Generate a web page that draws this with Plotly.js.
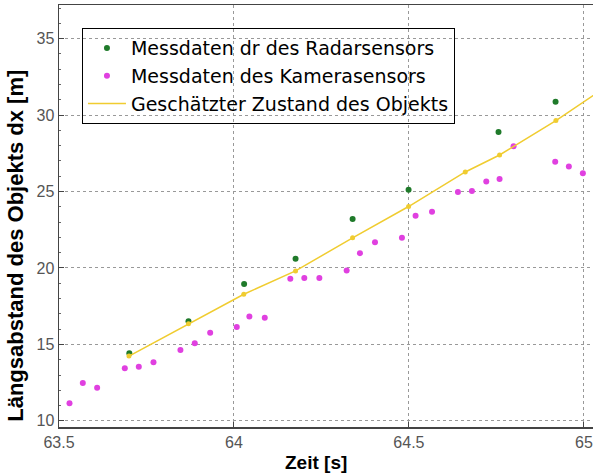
<!DOCTYPE html>
<html>
<head>
<meta charset="utf-8">
<script src="https://cdn.plot.ly/plotly-3.0.1.min.js"></script>
<style>html,body{margin:0;padding:0;background:#fff;}#chart{width:593px;height:473px;}</style>
</head>
<body>
<div id="chart"></div>
<script>
// Radar measurements (green)
const radarTime = [63.701, 63.870, 64.029, 64.176, 64.339, 64.499, 64.756, 64.919];
const radarDist = [14.42, 16.51, 18.96, 20.60, 23.20, 25.12, 28.90, 30.87];

// Camera measurements (magenta)
const camTime = [63.530, 63.568, 63.609, 63.688, 63.728, 63.770, 63.847, 63.888, 63.932,
                 64.008, 64.044, 64.088, 64.161, 64.201, 64.244, 64.322, 64.360, 64.403,
                 64.480, 64.519, 64.566, 64.640, 64.680, 64.721, 64.759, 64.799, 64.918,
                 64.957, 64.997];
const camDist = [11.16, 12.47, 12.16, 13.45, 13.54, 13.83, 14.63, 15.07, 15.77,
                 16.14, 16.82, 16.75, 19.29, 19.35, 19.35, 19.83, 20.97, 21.69,
                 21.97, 23.41, 23.68, 24.97, 25.03, 25.66, 25.82, 27.96, 26.95,
                 26.64, 26.19];

// Estimated state (yellow)
const estTime = [63.700, 63.870, 64.028, 64.176, 64.339, 64.499, 64.661, 64.759, 64.920, 65.080];
const estDist = [14.24, 16.36, 18.28, 19.81, 21.97, 24.02, 26.28, 27.39, 29.64, 32.10];

const xTicks = [63.5, 64, 64.5, 65];
const yTicks = [10, 15, 20, 25, 30, 35];

const traces = [
  {x: radarTime, y: radarDist, type: 'scatter', mode: 'markers',
   name: 'Messdaten dr des Radarsensors',
   marker: {color: '#1f7a2a', size: 6, symbol: 'circle'}},
  {x: camTime, y: camDist, type: 'scatter', mode: 'markers',
   name: 'Messdaten des Kamerasensors',
   marker: {color: '#e040e0', size: 6, symbol: 'circle'}},
  {x: estTime, y: estDist, type: 'scatter', mode: 'lines',
   name: 'Geschätzter Zustand des Objekts',
   line: {color: '#f0cc30', width: 1.5}},
  {x: estTime, y: estDist, type: 'scatter', mode: 'markers',
   name: 'Geschätzter Zustand des Objekts', showlegend: false,
   marker: {color: '#f0cc30', size: 5}}
];

const layout = {
  width: 593, height: 473,
  margin: {l: 59, r: 0, t: 5, b: 46},
  paper_bgcolor: '#ffffff', plot_bgcolor: '#ffffff',
  showlegend: true,
  legend: {x: 0.043, y: 0.945, xanchor: 'left', yanchor: 'top',
           bgcolor: 'rgba(0,0,0,0)', bordercolor: '#000', borderwidth: 1,
           itemwidth: 38,
           font: {family: 'DejaVu Sans', size: 19, color: '#000'},
           tracegroupgap: 0},
  xaxis: {range: [63.5, 65.026], tickvals: xTicks, ticktext: xTicks.map(String),
          showgrid: true, gridcolor: '#999', griddash: 'dot', gridwidth: 1,
          zeroline: false, showline: true, linecolor: '#444', linewidth: 1.5, mirror: true,
          ticks: 'inside', ticklen: 5, tickcolor: '#444',
          tickfont: {family: 'Liberation Sans', size: 16, color: '#555'}},
  yaxis: {range: [9.6, 37.2], tickvals: yTicks, ticktext: yTicks.map(String),
          showgrid: true, gridcolor: '#999', griddash: 'dot', gridwidth: 1,
          zeroline: false, showline: true, linecolor: '#444', linewidth: 1.5, mirror: true,
          ticks: 'inside', ticklen: 5, tickcolor: '#444',
          minor: {dtick: 1, ticks: 'inside', ticklen: 2, tickcolor: '#666', showgrid: false},
          tickfont: {family: 'Liberation Sans', size: 16, color: '#555'}},
  annotations: [
    {text: '<b>Zeit [s]</b>', xref: 'paper', yref: 'paper', x: (316-59)/534, y: -0.085,
     xanchor: 'center', yanchor: 'middle', showarrow: false,
     font: {family: 'Liberation Sans', size: 19, color: '#000'}},
    {text: '<b>Längsabstand des Objekts dx [m]</b>', xref: 'paper', yref: 'paper',
     x: -0.081, y: (427-246)/422, xanchor: 'center', yanchor: 'middle', textangle: -90,
     showarrow: false, font: {family: 'Liberation Sans', size: 22, color: '#000'}}
  ]
};

Plotly.newPlot('chart', traces, layout, {displayModeBar: false, staticPlot: true});
</script>
</body>
</html>
